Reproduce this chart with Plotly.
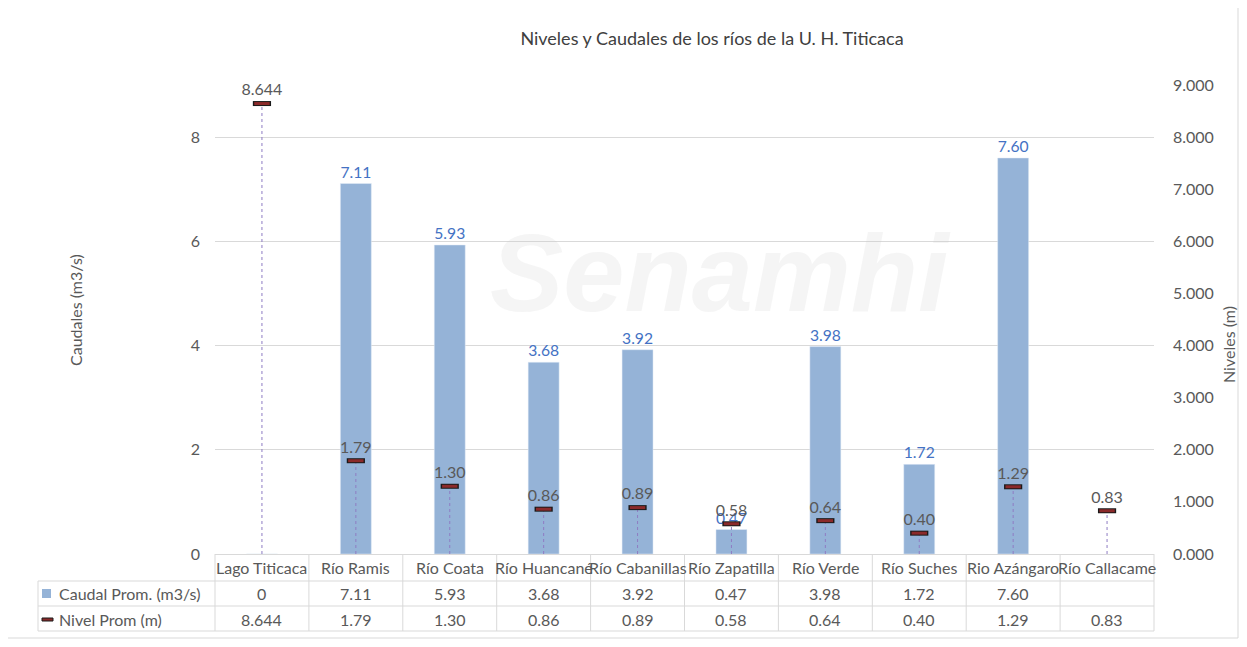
import plotly.graph_objects as go

categories = ["Lago Titicaca", "Río Ramis", "Río Coata", "Río Huancané", "Río Cabanillas",
              "Río Zapatilla", "Río Verde", "Río Suches", "Rio Azángaro", "Río Callacame"]
caudal = [0, 7.11, 5.93, 3.68, 3.92, 0.47, 3.98, 1.72, 7.60, None]
nivel = [8.644, 1.79, 1.30, 0.86, 0.89, 0.58, 0.64, 0.40, 1.29, 0.83]
caudal_txt = ["0", "7.11", "5.93", "3.68", "3.92", "0.47", "3.98", "1.72", "7.60", ""]
nivel_txt = ["8.644", "1.79", "1.30", "0.86", "0.89", "0.58", "0.64", "0.40", "1.29", "0.83"]
series_names = ["Caudal Prom. (m3/s)", "Nivel Prom (m)"]

OFF = 8  # page body margin
W, H = 1247, 647
FIG_W, FIG_H = W - 2 * OFF, H - 2 * OFF  # avoid scrollbars
L, R, T, B = 215, 1154, 85, 554
FONT = "Lato"
GREY = "#595959"
BAR = "#95B3D7"
BLUE_TXT = "#4472C4"
LINEC = "#D9D9D9"

def px(xp):
    return (xp - L) / (R - L)

def py(yp):
    return (B - yp) / (B - T)

fig = go.Figure()

fig.add_trace(go.Bar(
    x=categories, y=caudal, name=series_names[0], marker_color=BAR, width=0.33,
    text=[t if (v not in (None, 0)) else "" for t, v in zip(caudal_txt, caudal)],
    textposition="outside", textfont=dict(color=BLUE_TXT, size=16, family=FONT),
    cliponaxis=False, yaxis="y"))

# drop lines
dx, dy = [], []
for c, v in zip(categories, nivel):
    dx += [c, c, None]
    dy += [0, v, None]
fig.add_trace(go.Scatter(x=dx, y=dy, mode="lines", yaxis="y2", showlegend=False,
                         line=dict(color="#8E7CC3", width=1, dash="dot"), hoverinfo="skip"))

fig.add_trace(go.Scatter(x=categories, y=nivel, mode="markers", yaxis="y2", showlegend=False,
                         marker=dict(symbol="line-ew", size=13, line=dict(width=5, color="#1a1a1a"))))
fig.add_trace(go.Scatter(x=categories, y=nivel, mode="markers", yaxis="y2", name=series_names[1],
                         marker=dict(symbol="line-ew", size=11, line=dict(width=3, color="#8B2A2A"))))
fig.add_trace(go.Scatter(x=categories, y=nivel, mode="markers+text", yaxis="y2", showlegend=False,
                         marker=dict(size=5, opacity=0),
                         text=nivel_txt, textposition="top center",
                         textfont=dict(color=GREY, size=16, family=FONT), cliponaxis=False))

shapes = []
# outer border
shapes.append(dict(type="rect", xref="paper", yref="paper", x0=px(4), x1=px(1238), y0=py(638), y1=py(5),
                   line=dict(color=LINEC, width=1)))
# table lines
for yy in [581, 606, 631]:
    shapes.append(dict(type="line", xref="paper", yref="paper", x0=px(38), x1=px(R), y0=py(yy), y1=py(yy),
                       line=dict(color=LINEC, width=1)))
shapes.append(dict(type="line", xref="paper", yref="paper", x0=px(38), x1=px(38), y0=py(581), y1=py(631),
                   line=dict(color=LINEC, width=1)))
n = len(categories)
for i in range(n + 1):
    xp = L + i * (R - L) / n
    shapes.append(dict(type="line", xref="paper", yref="paper", x0=px(xp), x1=px(xp), y0=py(B), y1=py(631),
                       line=dict(color=LINEC, width=1)))
# legend keys
shapes.append(dict(type="rect", xref="paper", yref="paper", x0=px(42), x1=px(51), y0=py(598), y1=py(589),
                   fillcolor=BAR, line=dict(width=0)))
shapes.append(dict(type="rect", xref="paper", yref="paper", x0=px(42), x1=px(53), y0=py(621), y1=py(618),
                   fillcolor="#8B2A2A", line=dict(color="#1a1a1a", width=1)))

ann = []
for i, c in enumerate(categories):
    xc = L + (i + 0.5) * (R - L) / n
    ann.append(dict(x=px(xc), y=py(567), xref="paper", yref="paper", text=c, showarrow=False,
                    font=dict(size=16, color=GREY, family=FONT), xanchor="center", yanchor="middle"))
    ann.append(dict(x=px(xc), y=py(593), xref="paper", yref="paper", text=caudal_txt[i] if caudal[i] is not None else "",
                    showarrow=False, xanchor="center", yanchor="middle", font=dict(size=16, color=GREY, family=FONT)))
    ann.append(dict(x=px(xc), y=py(619), xref="paper", yref="paper", text=nivel_txt[i],
                    showarrow=False, xanchor="center", yanchor="middle", font=dict(size=16, color=GREY, family=FONT)))
ann.append(dict(x=px(57), y=py(593), xref="paper", yref="paper", text=series_names[0], showarrow=False,
                xanchor="left", yanchor="middle", font=dict(size=16, color=GREY, family=FONT)))
ann.append(dict(x=px(57), y=py(619), xref="paper", yref="paper", text=series_names[1], showarrow=False,
                xanchor="left", yanchor="middle", font=dict(size=16, color=GREY, family=FONT)))
# axis titles
ann.append(dict(x=px(75), y=py(310), xref="paper", yref="paper", text="Caudales (m3/s)", showarrow=False,
                xanchor="center", yanchor="middle", textangle=-90, font=dict(size=16, color=GREY, family=FONT)))
ann.append(dict(x=px(1228), y=py(345), xref="paper", yref="paper", text="Niveles (m)", showarrow=False,
                xanchor="center", yanchor="middle", textangle=-90, font=dict(size=16, color=GREY, family=FONT)))
# watermark
ann.append(dict(x=px(720), y=py(272), xref="paper", yref="paper", text="<b><i>Senamhi</i></b>", showarrow=False,
                xanchor="center", yanchor="middle",
                font=dict(size=110, color="rgba(200,200,200,0.18)", family="Liberation Sans")))

fig.update_layout(
    width=FIG_W, height=FIG_H,
    margin=dict(l=L - OFF, r=(OFF + FIG_W) - R, t=T - OFF, b=(OFF + FIG_H) - B, pad=0),
    paper_bgcolor="white", plot_bgcolor="white", showlegend=False,
    title=dict(text="Niveles y Caudales de los ríos de la U. H. Titicaca", x=(712 - OFF) / FIG_W,
               y=1 - (39 - OFF) / FIG_H,
               xanchor="center", yanchor="middle", font=dict(size=18, color="#404040", family=FONT)),
    font=dict(family=FONT, color=GREY, size=16),
    xaxis=dict(type="category", showticklabels=False, showline=True, linecolor=LINEC, ticks="",
               range=[-0.5, n - 0.5], showgrid=False),
    yaxis=dict(range=[0, 9], dtick=2, showgrid=True, gridcolor=LINEC, zeroline=False, ticks="",
               tickfont=dict(size=16, color=GREY), ticklabelstandoff=14),
    yaxis2=dict(range=[0, 9], dtick=1, overlaying="y", side="right", showgrid=False, zeroline=False,
                tickformat=".3f", ticks="", tickfont=dict(size=16, color=GREY), ticklabelstandoff=18),
    shapes=shapes, annotations=ann,
)

fig.write_html("out.html")
